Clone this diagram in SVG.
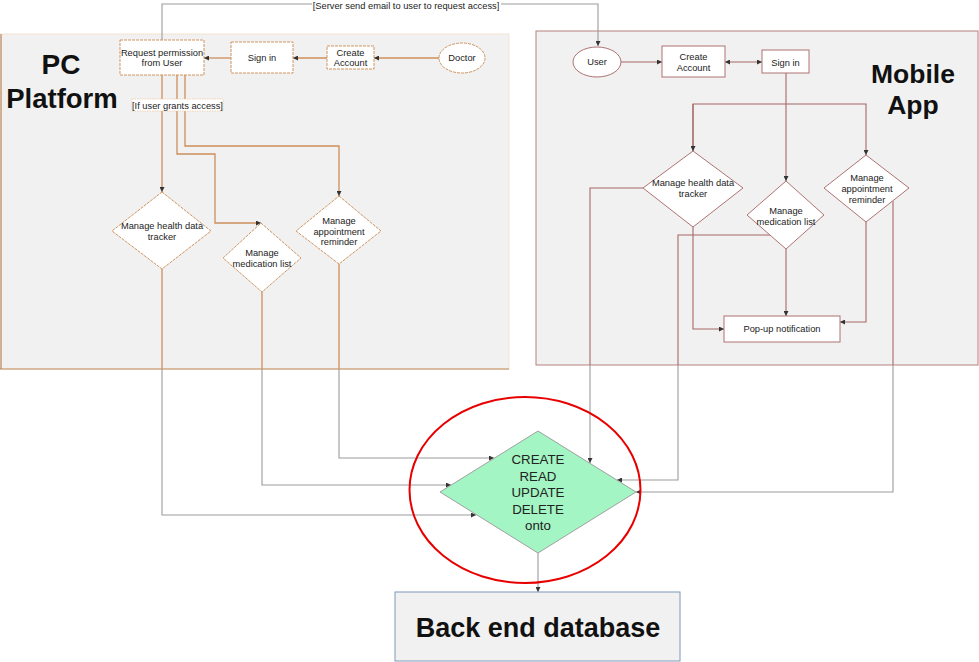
<svg xmlns="http://www.w3.org/2000/svg" width="979" height="662" viewBox="0 0 979 662">
  <style>
    .t { font-family: "Liberation Sans", Arial, sans-serif; font-size: 9.3px; fill: #222; text-anchor: middle; }
    .title { font-family: "Liberation Sans", Arial, sans-serif; font-weight: bold; fill: #111; text-anchor: middle; }
    .crud { font-family: "Liberation Sans", Arial, sans-serif; font-size: 13.3px; fill: #222; text-anchor: middle; }
    .pcnode { fill: #fff; stroke: #cf945f; stroke-width: 1; stroke-dasharray: 3 1; }
    .mnode { fill: #fff; stroke: #b07272; stroke-width: 1; }
    .pc { fill: none; stroke: #cc8f5c; stroke-width: 1.3; }
    .mb { fill: none; stroke: #a86666; stroke-width: 1.1; }
    .gr { fill: none; stroke: #9c9c9c; stroke-width: 1.1; }
  </style>
  <defs>
    <marker id="arr" viewBox="0 0 6 6" refX="6" refY="3" markerWidth="5" markerHeight="5" markerUnits="userSpaceOnUse" orient="auto-start-reverse">
      <path d="M0,0 L6,3 L0,6 z" fill="#333"/>
    </marker>
  </defs>

  <rect width="979" height="662" fill="#fff"/>

  <!-- swimlane panels -->
  <g id="panels">
    <rect x="1" y="34" width="508" height="335" fill="#f1f1f1" stroke="#f4e2d2" stroke-width="1"/>
    <line x1="1" y1="34" x2="1" y2="369" stroke="#b8875e" stroke-width="1.2"/>
    <line x1="0" y1="369" x2="509" y2="369" stroke="#c08a5c" stroke-width="1.2"/>
    <rect x="536" y="31" width="442" height="334" fill="#f1f1f1" stroke="#b58080" stroke-width="1"/>
    <text class="title" x="61" y="74" font-size="28">PC</text>
    <text class="title" x="62" y="108" font-size="27.5">Platform</text>
    <text class="title" x="913" y="83" font-size="26.5">Mobile</text>
    <text class="title" x="913" y="114" font-size="26.5">App</text>
  </g>

  <!-- connectors -->
  <g id="connectors">
    <!-- server email request -->
    <path class="gr" d="M162,40 V4 H598 V46" marker-end="url(#arr)"/>

    <!-- PC flow -->
    <path class="pc" d="M439,58 H374" marker-end="url(#arr)"/>
    <path class="pc" d="M327,58 H293" marker-end="url(#arr)"/>
    <path class="pc" d="M231,58 H204" marker-end="url(#arr)"/>
    <path class="pc" d="M162,75 V192" marker-end="url(#arr)"/>
    <path class="pc" d="M177,75 V154 H215 V223 H261" marker-end="url(#arr)"/>
    <path class="pc" d="M185,75 V146 H339 V196" marker-end="url(#arr)"/>

    <!-- PC diamonds to CRUD -->
    <path class="pc" d="M162,269 V369"/>
    <path class="gr" d="M162,369 V515 H476" marker-end="url(#arr)"/>
    <path class="pc" d="M262,292 V369"/>
    <path class="gr" d="M262,369 V485 H451" marker-end="url(#arr)"/>
    <path class="pc" d="M339,264 V369"/>
    <path class="gr" d="M339,369 V458 H494" marker-end="url(#arr)"/>

    <!-- Mobile flow -->
    <path class="mb" d="M621,62 H662" marker-end="url(#arr)"/>
    <path class="mb" d="M725,62 H762" marker-start="url(#arr)" marker-end="url(#arr)"/>
    <path class="mb" d="M786,73 V181" marker-end="url(#arr)"/>
    <path class="mb" d="M693,151 V104 H866 V155" marker-end="url(#arr)"/>
    <path class="mb" d="M693,104 V151" marker-end="url(#arr)"/>

    <!-- Mobile diamonds to pop-up -->
    <path class="mb" d="M693,227 V329 H724" marker-end="url(#arr)"/>
    <path class="mb" d="M786,249 V316" marker-end="url(#arr)"/>
    <path class="mb" d="M866,222 V322 H840" marker-end="url(#arr)"/>

    <!-- Mobile diamonds to CRUD -->
    <path class="mb" d="M643,188 H590 V365"/>
    <path class="gr" d="M590,365 V463" marker-end="url(#arr)"/>
    <path class="mb" d="M770,235 H678 V365"/>
    <path class="gr" d="M678,365 V480 H617" marker-end="url(#arr)"/>
    <path class="mb" d="M893,201 V365"/>
    <path class="gr" d="M893,365 V492 H636" marker-end="url(#arr)"/>

    <!-- CRUD to database -->
    <path class="gr" d="M538,553 V592" marker-end="url(#arr)"/>
  </g>

  <!-- labels on connectors -->
  <g id="label-server">
    <rect x="312" y="0" width="189" height="11" fill="#fff"/>
    <text class="t" x="406" y="9">[Server send email to user to request access]</text>
  </g>
  <g id="label-grant">
    <rect x="132" y="99" width="91" height="12" fill="#fff" stroke="#efc9a6" stroke-width="0.8" stroke-dasharray="1.5 1"/>
    <text class="t" x="177.5" y="108.5">[If user grants access]</text>
  </g>

  <!-- PC nodes -->
  <g id="pc-request">
    <rect class="pcnode" x="120" y="40" width="84" height="35"/>
    <text class="t" x="162" y="56">Request permission</text>
    <text class="t" x="162" y="66">from User</text>
  </g>
  <g id="pc-signin">
    <rect class="pcnode" x="231" y="42" width="62" height="31"/>
    <text class="t" x="262" y="61">Sign in</text>
  </g>
  <g id="pc-create">
    <rect class="pcnode" x="327" y="46" width="47" height="23"/>
    <text class="t" x="350.5" y="56">Create</text>
    <text class="t" x="350.5" y="66">Account</text>
  </g>
  <g id="pc-doctor">
    <ellipse class="pcnode" cx="462" cy="58" rx="23" ry="15"/>
    <text class="t" x="462" y="61">Doctor</text>
  </g>
  <g id="pc-health">
    <polygon class="pcnode" points="162,192 211,231 162,269 112,231"/>
    <text class="t" x="162" y="229">Manage health data</text>
    <text class="t" x="162" y="240">tracker</text>
  </g>
  <g id="pc-medication">
    <polygon class="pcnode" points="261,223 301,258 262,292 223,258"/>
    <text class="t" x="262" y="256">Manage</text>
    <text class="t" x="262" y="266.5">medication list</text>
  </g>
  <g id="pc-appointment">
    <polygon class="pcnode" points="339,196 381,231 339,264 296,231"/>
    <text class="t" x="339" y="224">Manage</text>
    <text class="t" x="339" y="234.5">appointment</text>
    <text class="t" x="339" y="245">reminder</text>
  </g>

  <!-- Mobile nodes -->
  <g id="m-user">
    <ellipse class="mnode" cx="597" cy="62" rx="24" ry="15"/>
    <text class="t" x="597" y="65">User</text>
  </g>
  <g id="m-create">
    <rect class="mnode" x="662" y="46" width="63" height="31"/>
    <text class="t" x="693.5" y="60">Create</text>
    <text class="t" x="693.5" y="70.5">Account</text>
  </g>
  <g id="m-signin">
    <rect class="mnode" x="762" y="50" width="47" height="23"/>
    <text class="t" x="785.5" y="65.5">Sign in</text>
  </g>
  <g id="m-health">
    <polygon class="mnode" points="693,151 743,188 693,227 643,188"/>
    <text class="t" x="693" y="186">Manage health data</text>
    <text class="t" x="693" y="197">tracker</text>
  </g>
  <g id="m-medication">
    <polygon class="mnode" points="786,181 824,215 786,249 747,215"/>
    <text class="t" x="786" y="214">Manage</text>
    <text class="t" x="786" y="224.5">medication list</text>
  </g>
  <g id="m-appointment">
    <polygon class="mnode" points="866,155 909,188 866,222 824,188"/>
    <text class="t" x="867" y="181">Manage</text>
    <text class="t" x="867" y="192">appointment</text>
    <text class="t" x="867" y="203">reminder</text>
  </g>
  <g id="m-popup">
    <rect class="mnode" x="724" y="316" width="116" height="26"/>
    <text class="t" x="782" y="332">Pop-up notification</text>
  </g>

  <!-- shared back end -->
  <g id="crud">
    <polygon points="538,431 636,492 538,553 440,492" fill="#a3f5c3" stroke="#a0a0a0" stroke-width="1"/>
    <text class="crud" x="538" y="464">CREATE</text>
    <text class="crud" x="538" y="481">READ</text>
    <text class="crud" x="538" y="497">UPDATE</text>
    <text class="crud" x="538" y="514">DELETE</text>
    <text class="crud" x="538" y="530">onto</text>
  </g>
  <g id="crud-highlight">
    <ellipse cx="525" cy="490" rx="115.5" ry="93" fill="none" stroke="#e80000" stroke-width="2"/>
  </g>
  <g id="database">
    <rect x="395" y="592" width="285" height="69" fill="#f1f1f1" stroke="#7c98b6" stroke-width="1"/>
    <text class="title" x="538" y="637" font-size="27" fill="#0b1a2e">Back end database</text>
  </g>
</svg>
